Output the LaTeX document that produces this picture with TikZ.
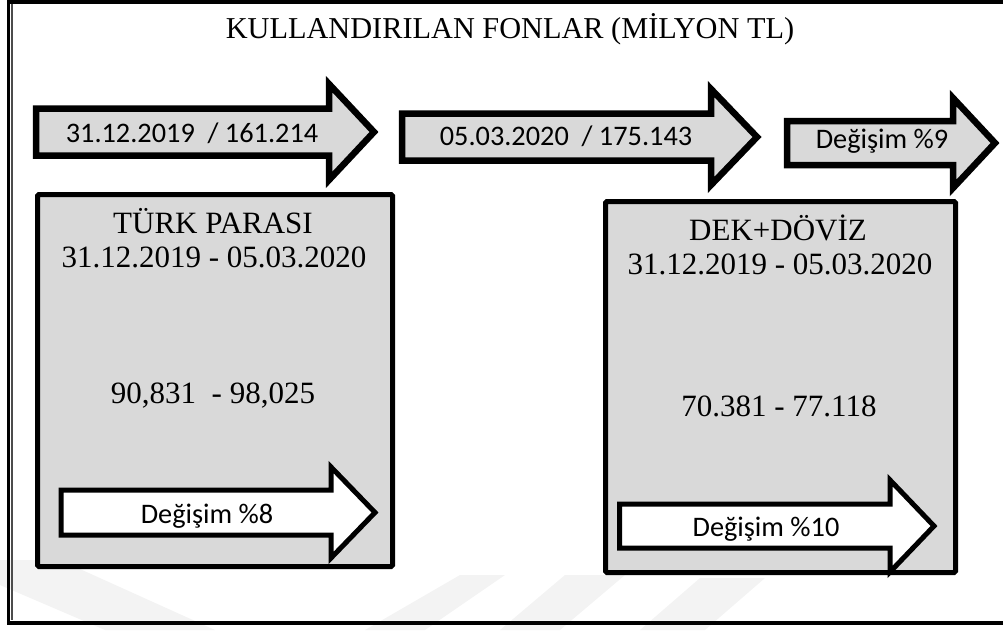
\documentclass[tikz,border=0pt]{standalone}
\usepackage{fontspec}
\setmainfont{Liberation Serif}
\newfontfamily\calfont{Carlito}
\definecolor{boxgray}{HTML}{D9D9D9}
\definecolor{wmark}{HTML}{F3F3F3}
\tikzset{
  toparrow/.style={draw=black, fill=boxgray, line width=6.5pt, line join=miter, miter limit=10},
  whitearrow/.style={draw=black, fill=white, line width=5pt, line join=miter, miter limit=10},
  panel/.style={draw=black, fill=boxgray, line width=5pt, rounded corners=1.5pt},
  serif/.style={font=\fontsize{31}{36}\selectfont, anchor=base, inner sep=0pt},
  titletext/.style={font=\fontsize{30.3}{35}\selectfont, anchor=base, inner sep=0pt},
  sans/.style={font=\calfont\fontsize{28.3}{34}\selectfont, anchor=base, inner sep=0pt},
  frameline/.style={draw=black, line width=4pt},
  stripe/.style={fill=wmark, draw=none},
}
\begin{document}
\begin{tikzpicture}[x=1pt,y=-1pt]
\useasboundingbox (0,0) rectangle (1003,630);
% faint watermark stripes
\fill[stripe] (0,560) -- (60,560) -- (215,630) -- (105,630) -- (0,585) -- cycle;
\fill[stripe] (460,575) -- (505,575) -- (425,630) -- (365,630) -- cycle;
\fill[stripe] (565,575) -- (625,575) -- (560,630) -- (500,630) -- cycle;
\fill[stripe] (700,578) -- (765,578) -- (705,630) -- (640,630) -- cycle;
% outer frame (open on the right)
\draw[frameline] (1010,2) -- (7,2);
\draw[draw=black, line width=3pt] (8.5,0) -- (8.5,625);
\draw[draw=black!70, line width=1.2pt] (12,4) -- (12,620);
\draw[frameline] (7,622.5) -- (1010,622.5);
% title
\node[titletext] (title) at (510,38) {KULLANDIRILAN FONLAR (MİLYON TL)};
% top arrows
\draw[toparrow] (36,108.5) -- (329,108.5) -- (329,84) -- (374,132) -- (329,180) -- (329,155.5) -- (36,155.5) -- cycle;
\node[sans] (a1) at (192,142) {31.12.2019\ \ / 161.214};
\draw[toparrow] (402,113.5) -- (711,113.5) -- (711,89) -- (757,137) -- (711,185) -- (711,160.5) -- (402,160.5) -- cycle;
\node[sans] (a2) at (566,145) {05.03.2020\ \ / 175.143};
\draw[toparrow] (787,121) -- (953,121) -- (953,98) -- (995,143) -- (953,188) -- (953,165) -- (787,165) -- cycle;
\node[sans] (a3) at (882,148) {Değişim \%9};
% left panel
\draw[panel] (37.5,194.5) rectangle (392.5,566.5);
\node[serif] (t1) at (213,233) {TÜRK PARASI};
\node[serif] (t2) at (214,267) {31.12.2019 - 05.03.2020};
\node[serif] (t3) at (213,403) {90,831\ \ - 98,025};
\draw[whitearrow] (61,490) -- (331,490) -- (331,467) -- (375,512.5) -- (331,558) -- (331,535) -- (61,535) -- cycle;
\node[sans] (w1) at (207,523) {Değişim \%8};
% right panel
\draw[panel] (605.5,201.5) rectangle (955.5,572.5);
\node[serif] (d1) at (778,240) {DEK+DÖVİZ};
\node[serif] (d2) at (780,274) {31.12.2019 - 05.03.2020};
\node[serif] (d3) at (779,416) {70.381 - 77.118};
\draw[whitearrow] (619.5,504) -- (890,504) -- (890,480) -- (934,526) -- (890,572) -- (890,548) -- (619.5,548) -- cycle;
\node[sans] (w2) at (766,536) {Değişim \%10};
\end{tikzpicture}
\end{document}
